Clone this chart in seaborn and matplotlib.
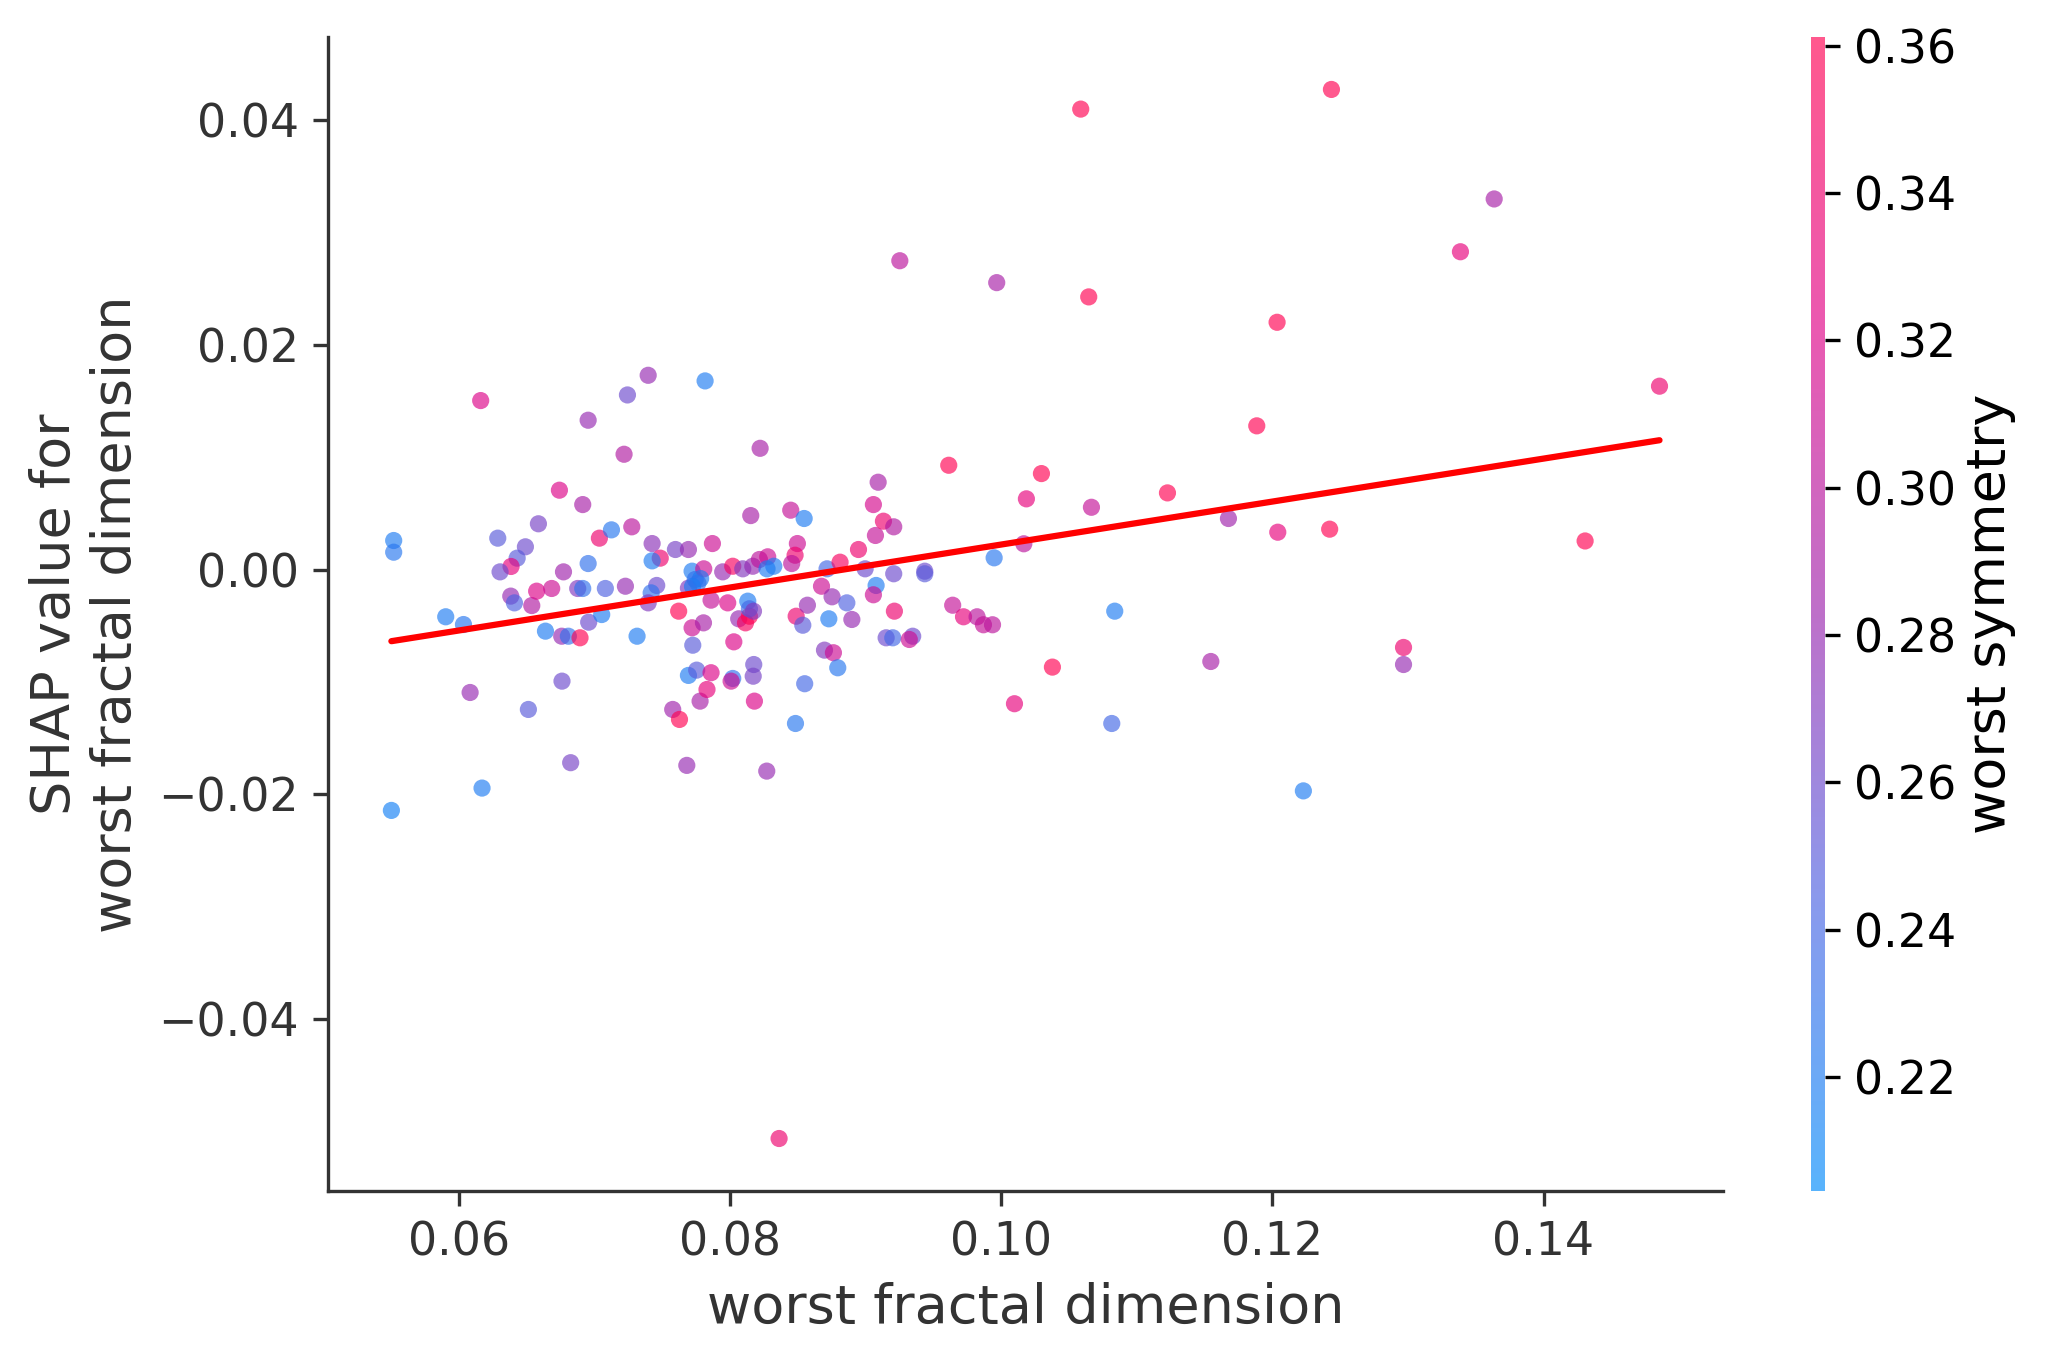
import numpy as np
import pandas as pd
import matplotlib
matplotlib.use("Agg")
import matplotlib.pyplot as plt
from matplotlib.colors import LinearSegmentedColormap, Normalize
from matplotlib.cm import ScalarMappable
import seaborn as sns

sns.set_style("ticks")
plt.rcParams["font.family"] = ["DejaVu Sans"]

AXIS_COLOR = "#333333"

# worst fractal dimension (feature value), its SHAP value, and worst symmetry (colour)
fractal_dim = [
    0.05515, 0.05515, 0.05498, 0.06157, 0.05899, 0.06030, 0.06079, 0.06167, 0.06283, 0.06487,
    0.06426, 0.06381, 0.06300, 0.06379, 0.06406, 0.06534, 0.06570, 0.06681, 0.06583, 0.06509,
    0.06635, 0.06738, 0.06768, 0.06755, 0.06804, 0.06757, 0.06821, 0.06890, 0.06873, 0.06910,
    0.06910, 0.06950, 0.06950, 0.06954, 0.07050, 0.07033, 0.07077, 0.07122, 0.07215, 0.07240,
    0.07272, 0.07225, 0.07311, 0.07393, 0.07422, 0.07482, 0.07422, 0.07456, 0.07415, 0.07393,
    0.07594, 0.07574, 0.07624, 0.07618, 0.07678, 0.07690, 0.07717, 0.07740, 0.07690, 0.07717,
    0.07722, 0.07690, 0.07751, 0.07776, 0.07813, 0.07867, 0.07803, 0.07943, 0.07857, 0.07801,
    0.07857, 0.07827, 0.07980, 0.08017, 0.08091, 0.08025, 0.08017, 0.08005, 0.08061, 0.08111,
    0.08140, 0.08128, 0.08140, 0.08170, 0.08165, 0.08214, 0.08275, 0.08270, 0.08320, 0.08150,
    0.08219, 0.08172, 0.08168, 0.08177, 0.08268, 0.08359, 0.08445, 0.08544, 0.08494, 0.08477,
    0.08452, 0.08485, 0.08534, 0.08568, 0.08548, 0.08480, 0.08713, 0.08809, 0.08672, 0.08750,
    0.08726, 0.08694, 0.08760, 0.08792, 0.08896, 0.08859, 0.08945, 0.08994, 0.09055, 0.09070,
    0.09090, 0.09129, 0.09205, 0.09075, 0.09055, 0.09205, 0.09210, 0.09149, 0.09198, 0.09345,
    0.09320, 0.09434, 0.09434, 0.09250, 0.09611, 0.09640, 0.09720, 0.09820, 0.09867, 0.09934,
    0.09946, 0.09965, 0.10165, 0.10184, 0.10295, 0.10096, 0.10376, 0.10585, 0.10644, 0.10664,
    0.10836, 0.10814, 0.11225, 0.11545, 0.11675, 0.11884, 0.12034, 0.12039, 0.12228, 0.12422,
    0.12435, 0.12967, 0.12967, 0.13387, 0.13636, 0.14307, 0.14856, 0.07780, 0.07760, 0.07720,
]
shap_value = [
    0.00259, 0.00155, -0.02144, 0.01505, -0.00420, -0.00489, -0.01094, -0.01945, 0.00280, 0.00203,
    0.00102, 0.00028, -0.00020, -0.00236, -0.00296, -0.00320, -0.00192, -0.00168, 0.00408, -0.01245,
    -0.00548, 0.00707, -0.00020, -0.00593, -0.00593, -0.00993, -0.01719, -0.00607, -0.00168, -0.00168,
    0.00579, 0.01330, 0.00054, -0.00468, -0.00400, 0.00280, -0.00168, 0.00354, 0.01027, 0.01555,
    0.00381, -0.00148, -0.00593, 0.01730, 0.00232, 0.00102, 0.00078, -0.00141, -0.00207, -0.00296,
    0.00179, -0.01245, -0.01334, -0.00370, -0.01743, 0.00179, -0.00014, -0.00088, -0.00165, -0.00518,
    -0.00673, -0.00942, -0.00895, -0.01171, 0.01680, 0.00232, 0.00007, -0.00020, -0.00272, -0.00474,
    -0.00918, -0.01067, -0.00296, 0.00030, 0.00007, -0.00643, -0.00969, -0.00993, -0.00438, -0.00474,
    -0.00415, -0.00281, -0.00349, -0.00370, 0.00030, 0.00090, 0.00114, 0.00007, 0.00030, 0.00481,
    0.01080, -0.00845, -0.00949, -0.01171, -0.01794, -0.05065, 0.00529, 0.00455, 0.00232, 0.00128,
    0.00054, -0.00415, -0.00495, -0.00317, -0.01016, -0.01370, 0.00007, 0.00066, -0.00148, -0.00242,
    -0.00438, -0.00717, -0.00740, -0.00874, -0.00444, -0.00296, 0.00179, 0.00007, 0.00579, 0.00304,
    0.00778, 0.00431, 0.00381, -0.00141, -0.00224, -0.00037, -0.00370, -0.00607, -0.00607, -0.00593,
    -0.00622, -0.00014, -0.00037, 0.02750, 0.00929, -0.00317, -0.00420, -0.00420, -0.00491, -0.00491,
    0.00105, 0.02555, 0.00230, 0.00630, 0.00855, -0.01194, -0.00868, 0.04100, 0.02428, 0.00555,
    -0.00370, -0.01370, 0.00683, -0.00818, 0.00455, 0.01280, 0.02202, 0.00333, -0.01970, 0.00360,
    0.04275, -0.00693, -0.00845, 0.02830, 0.03300, 0.00255, 0.01633, -0.00080, -0.00120, -0.00150,
]
worst_symmetry = [
    0.220, 0.225, 0.215, 0.320, 0.220, 0.225, 0.280, 0.220, 0.250, 0.260,
    0.250, 0.330, 0.260, 0.280, 0.245, 0.295, 0.320, 0.310, 0.265, 0.250,
    0.220, 0.320, 0.285, 0.280, 0.230, 0.260, 0.265, 0.360, 0.270, 0.230,
    0.290, 0.280, 0.230, 0.260, 0.220, 0.340, 0.245, 0.225, 0.295, 0.260,
    0.300, 0.280, 0.220, 0.280, 0.275, 0.340, 0.220, 0.260, 0.230, 0.270,
    0.265, 0.285, 0.360, 0.360, 0.280, 0.280, 0.220, 0.230, 0.270, 0.310,
    0.250, 0.220, 0.250, 0.290, 0.220, 0.310, 0.310, 0.280, 0.305, 0.290,
    0.320, 0.330, 0.320, 0.350, 0.270, 0.320, 0.230, 0.310, 0.280, 0.350,
    0.360, 0.220, 0.240, 0.270, 0.280, 0.300, 0.310, 0.220, 0.220, 0.290,
    0.290, 0.260, 0.265, 0.320, 0.280, 0.340, 0.305, 0.220, 0.310, 0.340,
    0.300, 0.340, 0.250, 0.280, 0.240, 0.225, 0.240, 0.350, 0.310, 0.280,
    0.220, 0.270, 0.310, 0.225, 0.280, 0.245, 0.340, 0.260, 0.315, 0.305,
    0.290, 0.340, 0.295, 0.220, 0.310, 0.260, 0.340, 0.260, 0.240, 0.260,
    0.310, 0.260, 0.250, 0.300, 0.360, 0.305, 0.330, 0.300, 0.305, 0.300,
    0.225, 0.290, 0.300, 0.330, 0.360, 0.330, 0.360, 0.360, 0.360, 0.305,
    0.220, 0.240, 0.360, 0.290, 0.285, 0.360, 0.360, 0.330, 0.220, 0.360,
    0.360, 0.340, 0.280, 0.330, 0.290, 0.360, 0.340, 0.220, 0.230, 0.220,
]
sym_range = (0.2045, 0.3612)

df = pd.DataFrame({"fractal": fractal_dim, "shap": shap_value, "sym": worst_symmetry})

# shap-like red/blue colormap
red_blue = LinearSegmentedColormap.from_list(
    "red_blue", ["#008BFB", "#4B63E3", "#9B23AD", "#E00086", "#FF0051"])
norm = Normalize(*sym_range)

fig = plt.figure(figsize=(2055 / 300, 1365 / 300), dpi=300)
ax = fig.add_axes([0.1596, 0.1275, 0.6788, 0.8454])
cax = fig.add_axes([0.8813, 0.1275, 0.0066, 0.8454])

sns.scatterplot(data=df, x="fractal", y="shap", hue="sym", palette=red_blue,
                hue_norm=norm, s=17, linewidth=0, alpha=0.65, legend=False, ax=ax)
sns.regplot(data=df, x="fractal", y="shap", scatter=False, ci=None,
            color="red", line_kws={"lw": 1.5}, ax=ax)

ax.set_xticks([0.06, 0.08, 0.10, 0.12, 0.14])
ax.set_yticks([-0.04, -0.02, 0.00, 0.02, 0.04])
ax.xaxis.set_major_formatter(plt.FuncFormatter(lambda v, _: f"{v:.2f}"))
ax.yaxis.set_major_formatter(plt.FuncFormatter(lambda v, _: f"{v:.2f}".replace("-", "\u2212")))
ax.set_xlabel("worst fractal dimension", fontsize=13, color=AXIS_COLOR)
ax.set_ylabel("SHAP value for\nworst fractal dimension", fontsize=13, color=AXIS_COLOR)
ax.tick_params(labelsize=11, color=AXIS_COLOR, labelcolor=AXIS_COLOR)
for side in ["top", "right"]:
    ax.spines[side].set_visible(False)
for side in ["left", "bottom"]:
    ax.spines[side].set_color(AXIS_COLOR)

cb = fig.colorbar(ScalarMappable(norm=norm, cmap=red_blue), cax=cax, alpha=0.65)
cb.outline.set_visible(False)
cb.set_ticks([0.22, 0.24, 0.26, 0.28, 0.30, 0.32, 0.34, 0.36])
cb.ax.yaxis.set_major_formatter(plt.FuncFormatter(lambda v, _: f"{v:.2f}"))
cb.ax.tick_params(labelsize=11, length=3.5, labelcolor="black", color="black")
cb.set_label("worst symmetry", fontsize=13, labelpad=2, color="black")

fig.savefig("out.png", dpi=300)
